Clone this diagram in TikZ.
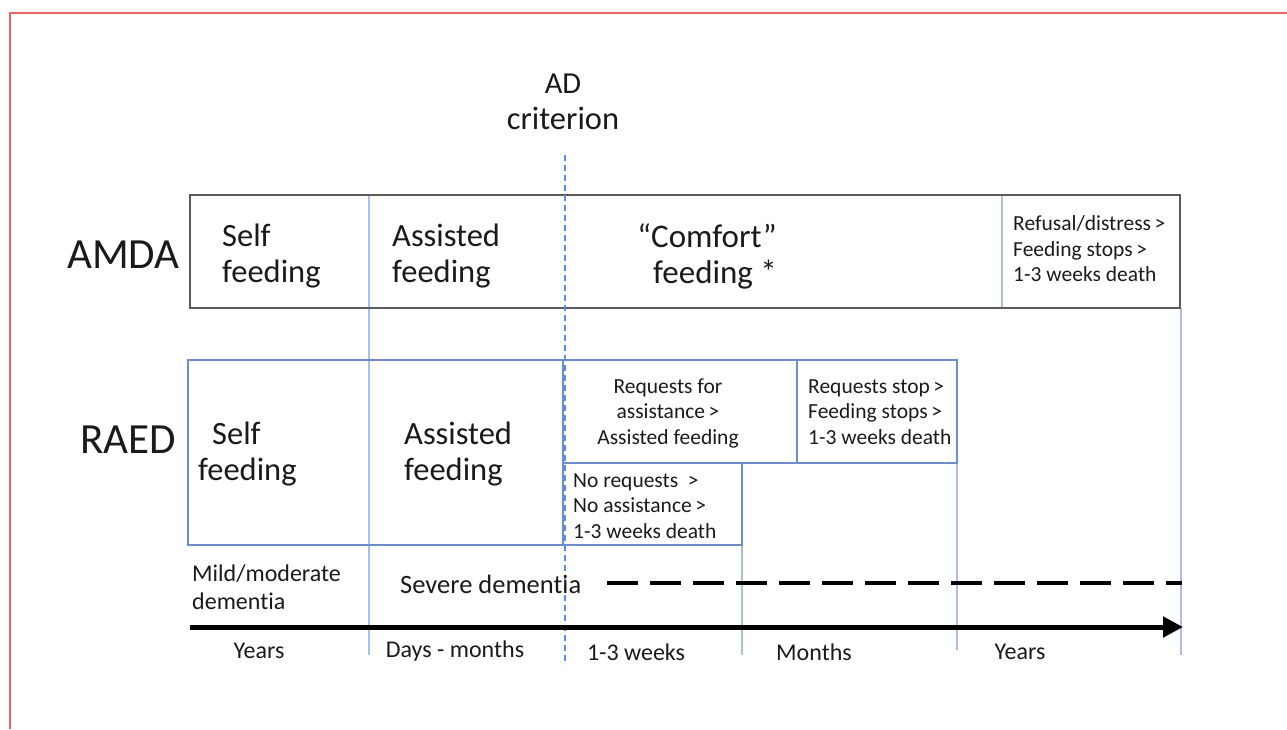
\documentclass[tikz,border=0pt]{standalone}
\usepackage{fontspec}
\setmainfont{Carlito}[Ligatures=NoCommon]
\usetikzlibrary{arrows.meta}
\definecolor{framered}{HTML}{E86464}
\definecolor{boxgray}{HTML}{5A5A5A}
\definecolor{raedblue}{HTML}{6E8DC8}
\definecolor{thinblue}{HTML}{A8BEE8}
\definecolor{adblue}{HTML}{5B8EE0}
\definecolor{txt}{HTML}{1A1A1A}
\tikzset{
  big/.style={inner sep=0pt, text=txt, font=\fontsize{32.5}{36}\selectfont, align=left},
  huge/.style={inner sep=0pt, text=txt, font=\fontsize{43}{48}\selectfont},
  small/.style={inner sep=0pt, text=txt, font=\fontsize{21.5}{25.5}\selectfont, align=left},
  lbl/.style={inner sep=0pt, text=txt, font=\fontsize{24}{28}\selectfont, align=left},
  graybox/.style={draw=boxgray, line width=2pt},
  bluebox/.style={draw=raedblue, line width=1.8pt},
  thinline/.style={draw=thinblue, line width=1.3pt},
  adline/.style={draw=adblue, line width=1.8pt, dash pattern=on 6pt off 4pt},
  timearrow/.style={draw=black, line width=5pt, -{Triangle[length=20pt,width=20pt]}},
  sevdash/.style={draw=black, line width=4pt, dash pattern=on 31pt off 12pt}
}
\begin{document}
\begin{tikzpicture}[x=1pt,y=-1pt]
\useasboundingbox (0,0) rectangle (1287,729);
% frame
\draw[framered, line width=1.5pt] (10,729) -- (10,13) -- (1287,13);

% thin vertical blue lines
\draw[thinline] (369,195) -- (369,655);
\draw[thinline] (1002,195) -- (1002,308);
\draw[thinline] (1181,308) -- (1181,655);
\draw[thinline] (742,545) -- (742,655);
\draw[thinline] (957,463) -- (957,650);

% AMDA box
\draw[graybox] (190,195) rectangle (1180,308);

% RAED boxes
\draw[bluebox] (188,360) rectangle (563,545);
\draw[bluebox] (563,360) rectangle (797,463);
\draw[bluebox] (797,360) rectangle (957,463);
\draw[bluebox] (563,463) rectangle (742,545);

% AD criterion line
\coordinate (adtop) at (565,155);
\coordinate (adbot) at (565,665);
\draw[adline] (adtop) -- (adbot);

% texts
\node[big, align=center] (ad) at (563,102) {\fontsize{30.5}{39}\selectfont AD\\criterion};
\node[huge, anchor=west] (amda) at (67,255) {AMDA};
\node[huge, anchor=west] (raed) at (80,440) {RAED};

\node[big, anchor=west] (aself) at (222,256) {Self\\feeding};
\node[big, anchor=west] (aassist) at (392,256) {Assisted\\feeding};
\node[big, align=center, font=\fontsize{33}{36}\selectfont] (acomfort) at (707,256) {“Comfort”\\\hspace{16pt}feeding *};
\node[small, anchor=west] (arefusal) at (1013,249) {Refusal/distress\,>\\Feeding stops\,>\\1-3 weeks death};

\node[big, anchor=west] (rself) at (198,454) {\hspace{14pt}Self\\feeding};
\node[big, anchor=west] (rassist) at (404,454) {Assisted\\feeding};
\node[small, align=center] (rreq) at (668,413) {Requests for\\assistance\,>\\Assisted feeding};
\node[small, anchor=west] (rstop) at (808,412) {Requests stop\,>\\Feeding stops\,>\\1-3 weeks death};
\node[small, anchor=west] (rnoreq) at (573,506) {No requests\ \ >\\No assistance\,>\\1-3 weeks death};

\node[lbl, anchor=west] (mild) at (192,587) {Mild/moderate\\dementia};
\node[lbl, anchor=west, font=\fontsize{26.5}{30}\selectfont] (severe) at (400,584) {Severe dementia};

% dashed continuation and time arrow
\coordinate (dashA) at (607,583);
\coordinate (dashB) at (1182,583);
\draw[sevdash] (dashA) -- (dashB);
\coordinate (arrA) at (190,627);
\coordinate (arrB) at (1183,627);
\draw[timearrow] (arrA) -- (arrB);

\node[lbl] (t1) at (259,651) {Years};
\node[lbl] (t2) at (455,651) {Days - months};
\node[lbl] (t3) at (636,652) {1-3 weeks};
\node[lbl] (t4) at (814,652) {Months};
\node[lbl] (t5) at (1020,652) {Years};
\end{tikzpicture}
\end{document}
